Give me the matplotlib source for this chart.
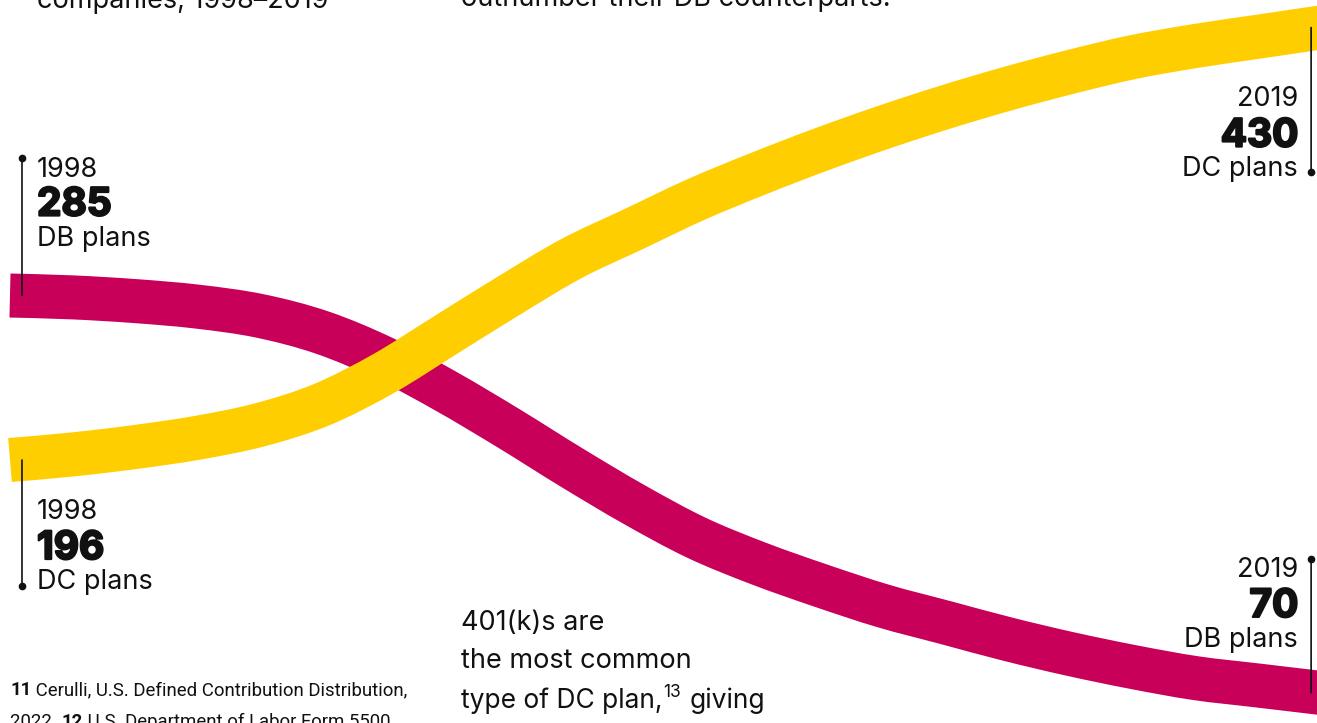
import matplotlib
matplotlib.use('Agg')
import matplotlib.pyplot as plt
import matplotlib.patheffects as pe
from matplotlib.path import Path
from matplotlib.patches import PathPatch
from matplotlib.transforms import offset_copy

# Fortune 500 companies offering DB / DC plans to new hires
years = list(range(1998, 2020))
db_plans = [285, 284, 282, 279, 274, 265, 251, 233, 213, 192, 172,
            154, 140, 128, 117, 108, 99, 91, 84, 78, 74, 70]
dc_plans = [196, 199, 203, 208, 215, 226, 243, 264, 285, 305, 321,
            337, 351, 364, 376, 387, 397, 406, 414, 420, 425, 430]

RED = '#C8005A'
YELLOW = '#FFCE00'
INK = '#111111'
W, H = 1317, 723

plt.rcParams['font.family'] = ['Inter', 'DejaVu Sans']

fig = plt.figure(figsize=(W / 100, H / 100), dpi=100)
ax = fig.add_axes([0, 0, 1, 1])
ax.axis('off')
ax.set_xlim(1997.84, 2018.95)
ax.set_ylim(53.7, 444.9)


def smooth_path(xs, ys):
    # Catmull-Rom through the points, as cubic Bezier segments
    n = len(xs)
    verts = [(xs[0], ys[0])]
    codes = [Path.MOVETO]
    for i in range(n - 1):
        p0 = (xs[max(i - 1, 0)], ys[max(i - 1, 0)])
        p1 = (xs[i], ys[i])
        p2 = (xs[i + 1], ys[i + 1])
        p3 = (xs[min(i + 2, n - 1)], ys[min(i + 2, n - 1)])
        c1 = (p1[0] + (p2[0] - p0[0]) / 6, p1[1] + (p2[1] - p0[1]) / 6)
        c2 = (p2[0] - (p3[0] - p1[0]) / 6, p2[1] - (p3[1] - p1[1]) / 6)
        verts += [c1, c2, p2]
        codes += [Path.CURVE4] * 3
    return Path(verts, codes)


for series, color, z in [(db_plans, RED, 2), (dc_plans, YELLOW, 3)]:
    ax.add_patch(PathPatch(smooth_path(years, series), fill=False,
                           edgecolor=color, lw=31.7, capstyle='butt',
                           joinstyle='round', zorder=z))

heavy = [pe.withStroke(linewidth=1.6, foreground=INK)]


def tag(i, series, noun, line_dx, dot_dy, text_dx, bases, ha):
    year, value = years[i], series[i]
    line_tr = offset_copy(ax.transData, fig=fig, x=line_dx, y=0, units='dots')
    ax.annotate('', xy=(year, value), xycoords=line_tr, xytext=(0, dot_dy),
                textcoords='offset pixels', annotation_clip=False,
                arrowprops=dict(arrowstyle='-', color=INK, lw=1.2,
                                shrinkA=0, shrinkB=0), zorder=5)
    dot_tr = offset_copy(ax.transData, fig=fig, x=line_dx, y=dot_dy, units='dots')
    ax.plot([year], [value], 'o', ms=4.5, color=INK, transform=dot_tr,
            zorder=5, clip_on=False)
    lines = [(str(year), dict(fontsize=19.5)),
             (str(value), dict(fontsize=28, fontweight='bold', path_effects=heavy)),
             (noun, dict(fontsize=19.5))]
    for (s, kw), b in zip(lines, bases):
        ax.annotate(s, xy=(year, value), xytext=(text_dx, b),
                    textcoords='offset pixels', ha=ha, va='baseline',
                    color=INK, annotation_clip=False, **kw)


tag(0, db_plans, 'DB plans', 12, 138, 27, [119, 80, 50], 'left')
tag(0, dc_plans, 'DC plans', 12, -126, 27, [-59, -99, -129], 'left')
tag(-1, dc_plans, 'DC plans', -9, -144, -22, [-78, -119, -148], 'right')
tag(-1, db_plans, 'DB plans', -9, 134, -22, [116, 76, 46], 'right')

renderer = fig.canvas.get_renderer()


def runs(x, y, parts):
    texts = []
    for s, kw in parts:
        t = fig.text(x / W, 1 - y / H, s, va='baseline', color=INK, **kw)
        x += t.get_window_extent(renderer=renderer).width
        texts.append(t)
    return x, texts


# text cut off at the top edge
runs(37, 8, [('companies, 1998\u20132019', dict(fontsize=19.5))])
runs(461, 6, [('outnumber their DB counterparts.', dict(fontsize=19.5))])

# body copy
runs(461, 630, [('401(k)s are', dict(fontsize=19.5))])
runs(461, 668, [('the most common', dict(fontsize=19.5))])
x_end, _ = runs(461, 708, [('type of DC plan,', dict(fontsize=19))])
x_sup, _ = runs(x_end + 1, 697, [('13', dict(fontsize=12.5))])
runs(x_sup + 8, 708, [('giving', dict(fontsize=19))])

# footnotes, in the narrowest face at hand; size fitted to the first line's width
fn = dict(family=['Liberation Sans Narrow', 'Roboto', 'DejaVu Sans'])
note1 = [('11', True), (' Cerulli, U.S. Defined Contribution Distribution,', False)]
note2 = [('2022. ', False), ('12', True), (' U.S. Department of Labor Form 5500', False)]


def note_parts(items, size):
    return [(s, dict(fontsize=size, fontweight='bold' if b else 'normal', **fn))
            for s, b in items]


x1, tmp = runs(10, 695, note_parts(note1, 15))
for t in tmp:
    t.remove()
size = 15 * 400 / (x1 - 10)
runs(10, 695, note_parts(note1, size))
runs(10, 727, note_parts(note2, size))

fig.savefig('out.png', dpi=100)
